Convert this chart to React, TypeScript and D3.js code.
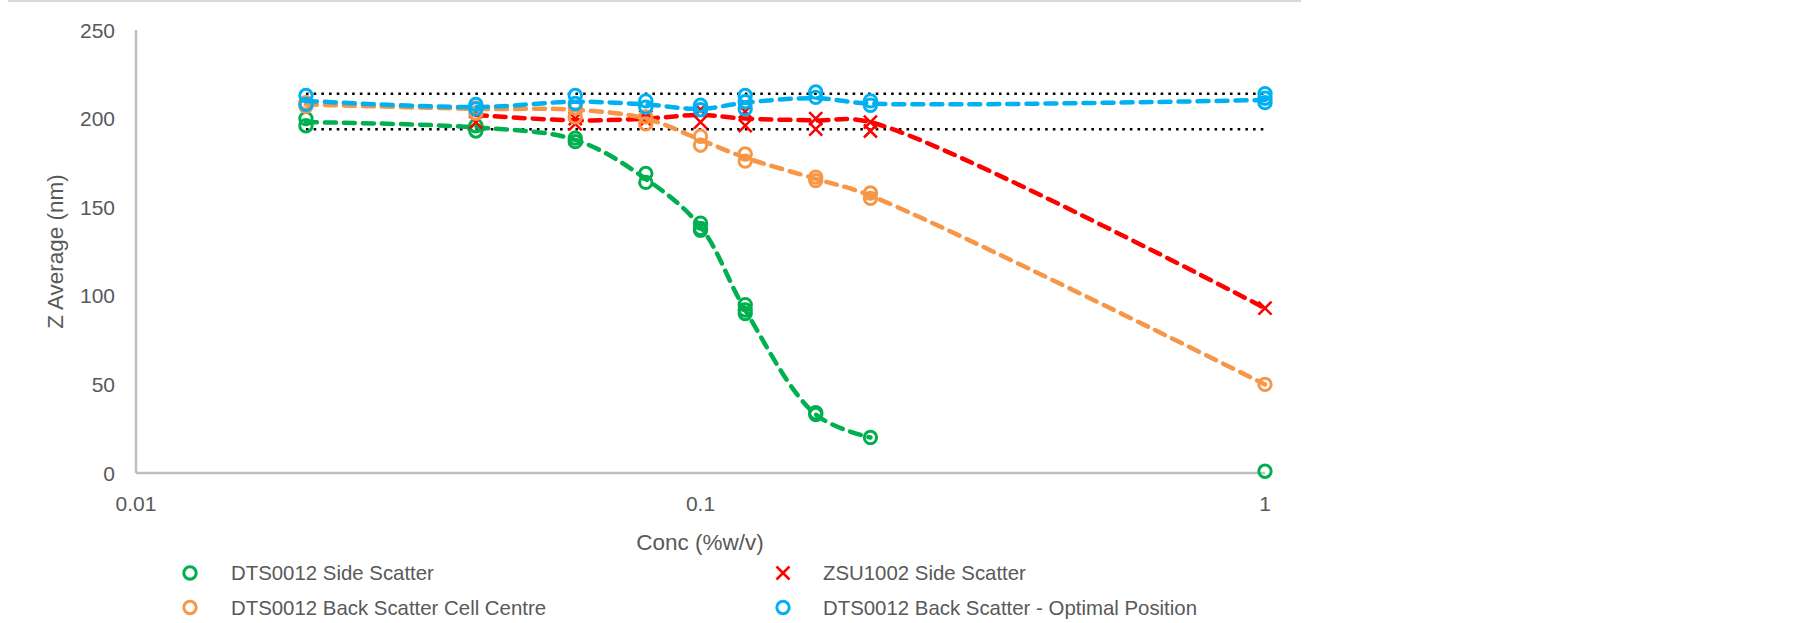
import React from "react";
import * as d3 from "d3";

// ---- data ----
const xTickValues = [0.01, 0.1, 1];
const xTickLabels = ["0.01", "0.1", "1"];
const yTickValues = [0, 50, 100, 150, 200, 250];

const seriesNames = [
  "DTS0012 Side Scatter",
  "ZSU1002 Side Scatter",
  "DTS0012 Back Scatter Cell Centre",
  "DTS0012 Back Scatter - Optimal Position",
];

// DTS0012 Side Scatter (green)
const greenX = [0.02, 0.02, 0.04, 0.04, 0.06, 0.06, 0.08, 0.08, 0.1, 0.1, 0.1, 0.12, 0.12, 0.12, 0.16, 0.16, 0.2, 1];
const greenY = [200, 196, 196, 193, 189, 187, 169, 164, 141, 138, 137, 95, 92, 90, 34, 33, 20, 1];
const greenLineX = [0.02, 0.04, 0.06, 0.08, 0.1, 0.12, 0.16, 0.2];
const greenLineY = [198, 195, 188, 166, 139, 92, 33, 20];

// ZSU1002 Side Scatter (red)
const redX = [0.04, 0.04, 0.06, 0.06, 0.08, 0.08, 0.1, 0.1, 0.12, 0.12, 0.16, 0.16, 0.2, 0.2, 1];
const redY = [204, 198, 200, 197, 201, 199, 205, 198, 204, 196, 200, 194, 198, 193, 93];
const redLineX = [0.04, 0.06, 0.08, 0.1, 0.12, 0.16, 0.2, 1];
const redLineY = [202, 199, 200, 202, 200, 199, 198, 93];

// DTS0012 Back Scatter Cell Centre (orange)
const orangeX = [0.02, 0.02, 0.04, 0.04, 0.06, 0.06, 0.08, 0.08, 0.1, 0.1, 0.12, 0.12, 0.16, 0.16, 0.2, 0.2, 1];
const orangeY = [209, 207, 206, 203, 206, 201, 201, 197, 190, 185, 180, 176, 167, 165, 158, 155, 50];
const orangeLineX = [0.02, 0.04, 0.06, 0.08, 0.1, 0.12, 0.16, 0.2, 1];
const orangeLineY = [208, 205.5, 205, 200, 188, 178, 166, 156.5, 50];

// DTS0012 Back Scatter - Optimal Position (blue)
const blueX = [0.02, 0.02, 0.04, 0.04, 0.06, 0.06, 0.08, 0.08, 0.1, 0.1, 0.12, 0.12, 0.12, 0.16, 0.16, 0.2, 0.2, 1, 1, 1];
const blueY = [213, 208, 208, 205.5, 213, 208.5, 210, 206.5, 207.5, 205, 213, 209.5, 205.5, 215, 212, 210, 207.5, 214, 211.5, 209];
const blueLineX = [0.02, 0.04, 0.06, 0.08, 0.1, 0.12, 0.16, 0.2, 1];
const blueLineY = [210, 206.5, 209.5, 208, 205.5, 209, 211.5, 208.5, 210.5];

// dotted reference band
const bandX = [0.02, 1];
const bandUpper = [214, 214];
const bandLower = [194, 194];

const GREEN = "#00B050";
const RED = "#FF0000";
const ORANGE = "#F79646";
const BLUE = "#00B0F0";
const TEXT = "#595959";
const AXIS = "#BFBFBF";
const FONT = "'Liberation Sans', Arial, sans-serif";

type S = { name: string; color: string; marker: "circle" | "x"; xs: number[]; ys: number[]; lx: number[]; ly: number[] };

const series: S[] = [
  { name: seriesNames[0], color: GREEN, marker: "circle", xs: greenX, ys: greenY, lx: greenLineX, ly: greenLineY },
  { name: seriesNames[1], color: RED, marker: "x", xs: redX, ys: redY, lx: redLineX, ly: redLineY },
  { name: seriesNames[2], color: ORANGE, marker: "circle", xs: orangeX, ys: orangeY, lx: orangeLineX, ly: orangeLineY },
  { name: seriesNames[3], color: BLUE, marker: "circle", xs: blueX, ys: blueY, lx: blueLineX, ly: blueLineY },
];

function Marker({ type, cx, cy, color }: { type: string; cx: number; cy: number; color: string }) {
  if (type === "x") {
    const h = 6.5;
    return (
      <path
        d={`M${cx - h},${cy - h}L${cx + h},${cy + h}M${cx - h},${cy + h}L${cx + h},${cy - h}`}
        stroke={color}
        strokeWidth={2.5}
        fill="none"
      />
    );
  }
  return <circle cx={cx} cy={cy} r={6.2} fill="none" stroke={color} strokeWidth={3} />;
}

export default function App() {
  const W = 1800;
  const H = 623;
  const x = d3.scaleLog().domain([0.01, 1]).range([136, 1265]);
  const y = d3.scaleLinear().domain([0, 250]).range([473, 30]);

  const line = d3
    .line<[number, number]>()
    .x((d) => x(d[0]))
    .y((d) => y(d[1]))
    .curve(d3.curveCatmullRom.alpha(0.5));
  const straight = d3
    .line<[number, number]>()
    .x((d) => x(d[0]))
    .y((d) => y(d[1]));

  const legendPos = [
    { mx: 190, tx: 231, y: 573 },
    { mx: 783, tx: 823, y: 573 },
    { mx: 190, tx: 231, y: 607.5 },
    { mx: 783, tx: 823, y: 607.5 },
  ];

  return (
    <div style={{ position: "absolute", left: 0, top: 0 }}>
      <svg width={W} height={H} style={{ display: "block", background: "#fff" }} fontFamily={FONT}>
        <rect x={0} y={0} width={W} height={H} fill="#fff" />
        <rect x={8} y={0} width={1293} height={2} fill="#D9D9D9" />

        {/* axes */}
        <line x1={x(0.01)} x2={x(0.01)} y1={y(250)} y2={y(0)} stroke={AXIS} strokeWidth={2.5} />
        <line x1={x(0.01)} x2={x(1)} y1={y(0)} y2={y(0)} stroke={AXIS} strokeWidth={2.5} />

        {yTickValues.map((v) => (
          <text key={v} x={115} y={y(v)} textAnchor="end" dominantBaseline="central" fontSize={21} fill={TEXT}>
            {v}
          </text>
        ))}
        {xTickValues.map((v, i) => (
          <text key={v} x={x(v)} y={503} textAnchor="middle" dominantBaseline="central" fontSize={21} fill={TEXT}>
            {xTickLabels[i]}
          </text>
        ))}

        <text x={700} y={542} textAnchor="middle" dominantBaseline="central" fontSize={22.5} fill={TEXT}>
          Conc (%w/v)
        </text>
        <text
          transform={`translate(55,${(y(0) + y(250)) / 2}) rotate(-90)`}
          textAnchor="middle"
          dominantBaseline="central"
          fontSize={22.5}
          fill={TEXT}
        >
          Z Average (nm)
        </text>

        {/* dotted band */}
        {[bandUpper, bandLower].map((b, i) => (
          <path
            key={i}
            d={straight(bandX.map((c, j) => [c, b[j]] as [number, number])) || ""}
            stroke="#000"
            strokeWidth={2.6}
            strokeDasharray="2.6,5.1"
            fill="none"
          />
        ))}

        {/* series */}
        {series.map((s) => (
          <g key={s.name}>
            <path
              d={line(s.lx.map((c, j) => [c, s.ly[j]] as [number, number])) || ""}
              stroke={s.color}
              strokeWidth={4.5}
              strokeDasharray="11,8"
              strokeLinecap="round"
              fill="none"
            />
            {s.xs.map((c, j) => (
              <Marker key={j} type={s.marker} cx={x(c)} cy={y(s.ys[j])} color={s.color} />
            ))}
          </g>
        ))}

        {/* legend */}
        {series.map((s, i) => (
          <g key={"lg" + i}>
            <Marker type={s.marker} cx={legendPos[i].mx} cy={legendPos[i].y} color={s.color} />
            <text x={legendPos[i].tx} y={legendPos[i].y} dominantBaseline="central" fontSize={20.4} fill={TEXT}>
              {s.name}
            </text>
          </g>
        ))}
      </svg>
    </div>
  );
}
